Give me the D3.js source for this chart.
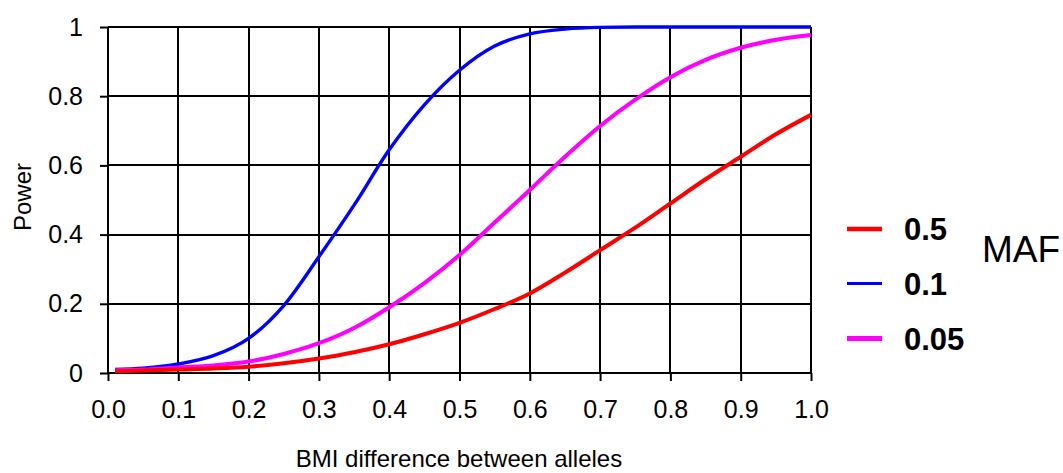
<!DOCTYPE html>
<html>
<head>
<meta charset="utf-8">
<script src="https://cdn.jsdelivr.net/npm/d3@7"></script>
<style>
  html, body { margin: 0; padding: 0; background: #fff; }
  svg { display: block; }
  text { font-family: "Liberation Sans", Arial, sans-serif; fill: #000; }
</style>
</head>
<body>
<svg id="chart" width="1063" height="473"></svg>
<script>
// BMI difference between alleles (x) and power of the test for each MAF
const bmiDiff = [0.01, 0.05, 0.1, 0.15, 0.2, 0.25, 0.3, 0.35, 0.4, 0.45, 0.5,
                 0.55, 0.6, 0.65, 0.7, 0.75, 0.8, 0.85, 0.9, 0.95, 1.0];
const powerMaf05  = [0.005, 0.007, 0.010, 0.013, 0.018, 0.028, 0.042, 0.060, 0.083, 0.112, 0.145,
                     0.185, 0.230, 0.290, 0.355, 0.420, 0.490, 0.560, 0.625, 0.690, 0.746];
const powerMaf01  = [0.010, 0.014, 0.026, 0.050, 0.100, 0.195, 0.336, 0.485, 0.645, 0.775, 0.875,
                     0.945, 0.980, 0.994, 0.999, 1.0, 1.0, 1.0, 1.0, 1.0, 1.0];
const powerMaf005 = [0.008, 0.010, 0.016, 0.022, 0.033, 0.055, 0.086, 0.130, 0.190, 0.260, 0.341,
                     0.435, 0.529, 0.625, 0.714, 0.790, 0.855, 0.905, 0.940, 0.963, 0.977];

const seriesNames  = ["0.5", "0.1", "0.05"];
const seriesColors = ["#ff0000", "#0000ff", "#ff00ff"];
const seriesValues = [powerMaf05, powerMaf01, powerMaf005];

const xTicks = [0, 0.1, 0.2, 0.3, 0.4, 0.5, 0.6, 0.7, 0.8, 0.9, 1.0];
const yTicks = [0, 0.2, 0.4, 0.6, 0.8, 1];

const svg = d3.select("#chart");
const x = d3.scaleLinear().domain([0, 1]).range([108, 811]);
const y = d3.scaleLinear().domain([0, 1]).range([373, 27]);

// grid
const grid = svg.append("g").attr("stroke", "#000").attr("stroke-width", 2);
grid.selectAll("line.v").data(xTicks).join("line")
  .attr("class", "v")
  .attr("x1", d => Math.round(x(d))).attr("x2", d => Math.round(x(d)))
  .attr("y1", y(1)).attr("y2", y(0));
grid.selectAll("line.h").data(yTicks).join("line")
  .attr("class", "h")
  .attr("y1", d => Math.round(y(d))).attr("y2", d => Math.round(y(d)))
  .attr("x1", x(0)).attr("x2", x(1));

// axes
const xAxis = d3.axisBottom(x).tickValues(xTicks).tickFormat(d3.format(".1f"))
  .tickSize(8).tickPadding(19);
const yAxis = d3.axisLeft(y).tickValues(yTicks).tickFormat(d3.format("~g"))
  .tickSize(8).tickPadding(17);

const gx = svg.append("g").attr("transform", `translate(0,${y(0)})`).call(xAxis);
const gy = svg.append("g").attr("transform", `translate(${x(0)},0)`).call(yAxis);
[gx, gy].forEach(g => {
  g.select(".domain").remove();
  g.selectAll(".tick line").attr("stroke", "#000").attr("stroke-width", 2);
  g.selectAll(".tick text").attr("font-size", 25)
    .attr("font-family", "'Liberation Sans', Arial, sans-serif").attr("fill", "#111");
});

// curves
const line = d3.line()
  .x((d, i) => x(bmiDiff[i]))
  .y(d => y(d))
  .curve(d3.curveMonotoneX);

const drawOrder = [1, 2, 0];
const widths = [4, 3.4, 4];
drawOrder.forEach(k => {
  svg.append("path")
    .datum(seriesValues[k])
    .attr("fill", "none")
    .attr("stroke", seriesColors[k])
    .attr("stroke-width", widths[k])
    .attr("stroke-linejoin", "round")
    .attr("d", line);
});

// axis titles
svg.append("text")
  .attr("x", 459).attr("y", 467)
  .attr("text-anchor", "middle")
  .attr("font-size", 24)
  .attr("fill", "#111")
  .text("BMI difference between alleles");

svg.append("text")
  .attr("transform", "translate(31,197) rotate(-90)")
  .attr("text-anchor", "middle")
  .attr("font-size", 24)
  .attr("fill", "#111")
  .text("Power");

// legend
const legendY = [229, 283.5, 338.5];
const legendW = [4.5, 3, 5];
const legend = svg.append("g");
seriesNames.forEach((name, i) => {
  legend.append("line")
    .attr("x1", 847).attr("x2", 882)
    .attr("y1", legendY[i]).attr("y2", legendY[i])
    .attr("stroke", seriesColors[i])
    .attr("stroke-width", legendW[i]);
  legend.append("text")
    .attr("x", 904).attr("y", legendY[i] + 11)
    .attr("font-size", 31)
    .attr("font-weight", "bold")
    .text(name);
});
legend.append("text")
  .attr("x", 982).attr("y", 261.5)
  .attr("font-size", 37)
  .text("MAF");
</script>
</body>
</html>
